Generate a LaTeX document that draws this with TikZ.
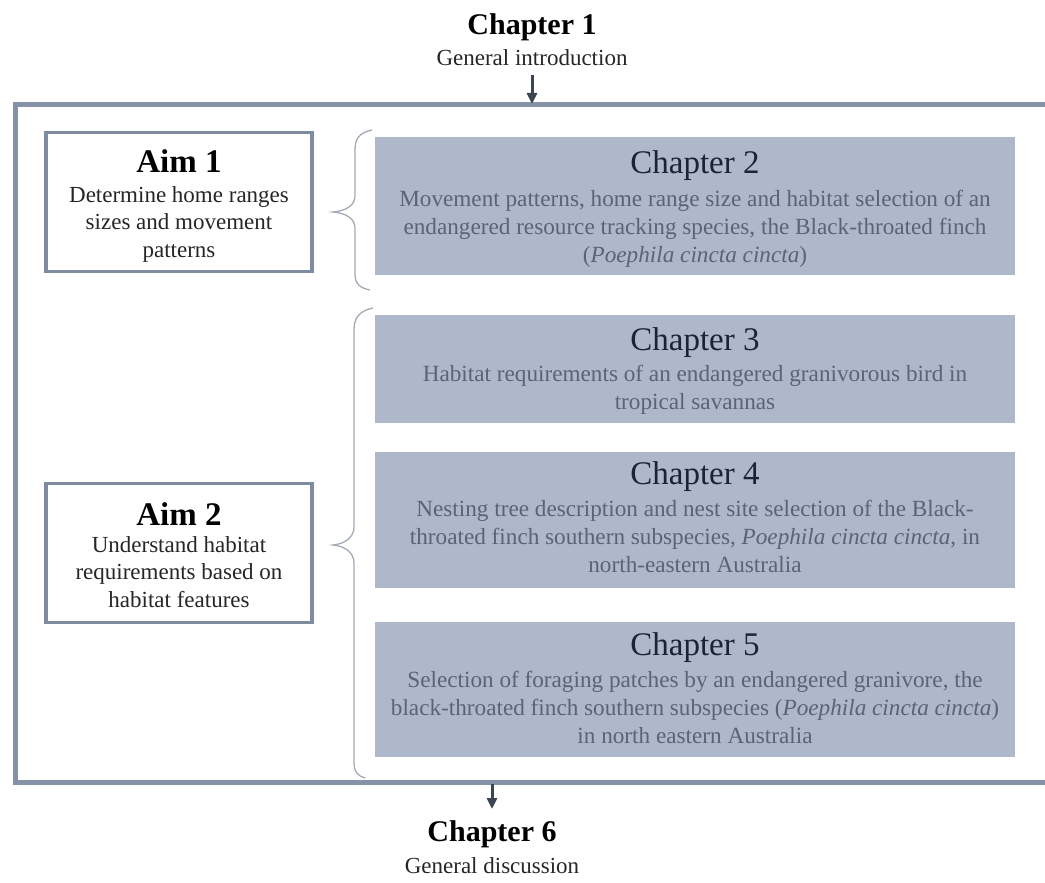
\documentclass[tikz,border=0pt]{standalone}
\usepackage{fontspec}
\setmainfont{Liberation Serif}
\usetikzlibrary{arrows.meta}
\definecolor{frameblue}{HTML}{8592A7}
\definecolor{aimblue}{HTML}{7E8BA1}
\definecolor{chapfill}{HTML}{AEB8CA}
\definecolor{titlecol}{HTML}{1C2433}
\definecolor{bodycol}{HTML}{5B6474}
\definecolor{bracecol}{HTML}{A3ABB7}
\definecolor{arrowcol}{HTML}{3C4552}
\tikzset{
  chapbox/.style={fill=chapfill, draw=none, minimum width=640pt, inner sep=0pt},
  aimbox/.style={draw=aimblue, line width=3.5pt, fill=white, minimum width=266pt, minimum height=139pt, inner sep=0pt},
  chaptitle/.style={text=titlecol, font=\fontsize{33}{33}\selectfont, inner sep=0pt},
  chapbody/.style={text=bodycol, font=\fontsize{23.2}{28}\selectfont, align=center, inner sep=0pt},
  aimtitle/.style={text=black, font=\bfseries\fontsize{33}{33}\selectfont, inner sep=0pt},
  aimbody/.style={text=black!85, font=\fontsize{23}{27.5}\selectfont, align=center, inner sep=0pt},
  outtitle/.style={text=black, font=\bfseries\fontsize{30}{30}\selectfont, inner sep=0pt},
  outbody/.style={text=black!85, font=\fontsize{23}{23}\selectfont, inner sep=0pt},
  flowarrow/.style={draw=arrowcol, line width=3pt, -{Triangle[length=11pt,width=10pt]}},
  bracestyle/.style={draw=bracecol, line width=1.3pt},
}
\begin{document}
\begin{tikzpicture}[x=1pt,y=-1pt]
\useasboundingbox (0,0) rectangle (1045,883);
\fill[white] (0,0) rectangle (1045,883);
% outer frame
\draw[frameblue, line width=5pt] (1047,105) -- (15,105) -- (15,782) -- (1047,782);
% top
\node[outtitle] (ch1) at (532,27) {Chapter 1};
\node[outbody] (ch1sub) at (532,58) {General introduction};
\coordinate (a1start) at (532,75);
\coordinate (frametop) at (532,104);
\draw[flowarrow] (a1start) -- (frametop);
% bottom
\coordinate (framebot) at (492,784);
\coordinate (a2end) at (492,809);
\node[outtitle] (ch6) at (492,834) {Chapter 6};
\node[outbody] (ch6sub) at (492,866) {General discussion};
\draw[flowarrow] (framebot) -- (a2end);
% aim boxes
\node[aimbox] (aim1) at (179,202) {};
\node[aimtitle] (aim1t) at (179,161) {Aim 1};
\node[aimbody, anchor=north] (aim1b) at (179,186) {Determine home ranges\\sizes and movement\\patterns};
\node[aimbox] (aim2) at (179,553) {};
\node[aimtitle] (aim2t) at (179,514) {Aim 2};
\node[aimbody, anchor=north] (aim2b) at (179,536) {Understand habitat\\requirements based on\\habitat features};
% chapter boxes
\node[chapbox, minimum height=138pt] (c2) at (695,206) {};
\node[chaptitle] (c2t) at (695,166) {Chapter 2};
\node[chapbody, anchor=north] (c2b) at (695,190) {Movement patterns, home range size and habitat selection of an\\endangered resource tracking species, the Black-throated finch\\(\textit{Poephila cincta cincta})};
\node[chapbox, minimum height=108pt] (c3) at (695,369) {};
\node[chaptitle] (c3t) at (695,343) {Chapter 3};
\node[chapbody, anchor=north] (c3b) at (695,365) {Habitat requirements of an endangered granivorous bird in\\tropical savannas};
\node[chapbox, minimum height=136pt] (c4) at (695,520) {};
\node[chaptitle] (c4t) at (695,477) {Chapter 4};
\node[chapbody, anchor=north] (c4b) at (695,500) {Nesting tree description and nest site selection of the Black-\\throated finch southern subspecies, \textit{Poephila cincta cincta}, in\\north-eastern Australia};
\node[chapbox, minimum height=135pt] (c5) at (695,689) {};
\node[chaptitle] (c5t) at (695,648) {Chapter 5};
\node[chapbody, anchor=north] (c5b) at (695,671) {Selection of foraging patches by an endangered granivore, the\\black-throated finch southern subspecies (\textit{Poephila cincta cincta})\\in north eastern Australia};
% braces
\draw[bracestyle] (372,130) .. controls (358,133) and (355,140) .. (355,150)
  -- (355,196) .. controls (355,206) and (345,211) .. (333,212)
  .. controls (345,213) and (355,218) .. (355,228)
  -- (355,274) .. controls (355,284) and (360,288) .. (370,290);
\draw[bracestyle] (373,308) .. controls (359,311) and (354,318) .. (354,330)
  -- (354,527) .. controls (354,538) and (344,544) .. (333,545)
  .. controls (344,546) and (354,552) .. (354,563)
  -- (354,762) .. controls (354,772) and (358,776) .. (365,778);
\end{tikzpicture}
\end{document}
